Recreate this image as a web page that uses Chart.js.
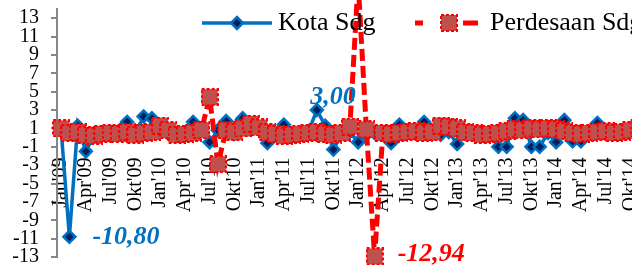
<!DOCTYPE html>
<html>
<head>
<meta charset="utf-8">
<script src="https://cdn.jsdelivr.net/npm/chart.js@4.4.0/dist/chart.umd.min.js"></script>
<style>
html, body { margin: 0; padding: 0; overflow: hidden; background: #fff; }
#wrap { width: 660px; height: 271px; }
</style>
</head>
<body>
<div id="wrap"><canvas id="line-chart"></canvas></div>
<script>
const months = [
  "Jan'09","Feb'09","Mar'09","Apr'09","Mei'09","Jun'09","Jul'09","Agu'09","Sep'09","Okt'09","Nov'09","Des'09",
  "Jan'10","Feb'10","Mar'10","Apr'10","Mei'10","Jun'10","Jul'10","Agu'10","Sep'10","Okt'10","Nov'10","Des'10",
  "Jan'11","Feb'11","Mar'11","Apr'11","Mei'11","Jun'11","Jul'11","Agu'11","Sep'11","Okt'11","Nov'11","Des'11",
  "Jan'12","Feb'12","Mar'12","Apr'12","Mei'12","Jun'12","Jul'12","Agu'12","Sep'12","Okt'12","Nov'12","Des'12",
  "Jan'13","Feb'13","Mar'13","Apr'13","Mei'13","Jun'13","Jul'13","Agu'13","Sep'13","Okt'13","Nov'13","Des'13",
  "Jan'14","Feb'14","Mar'14","Apr'14","Mei'14","Jun'14","Jul'14","Agu'14","Sep'14","Okt'14","Nov'14","Des'14"
]

const kota_sdg = [
  0.9, -10.80, 1.3, -1.5, 0.3, 0.5, 0.6, 0.7, 1.7, 0.5, 2.3, 2.1,
  0.8, 0.4, 0.3, 0.5, 1.7, 0.9, -0.5, 0.8, 1.8, 0.4, 2.1, 1.0,
  1.0, -0.6, 0.3, 1.4, 0.2, 0.5, 0.7, 3.00, 1.3, -1.3, 0.4, 0.6,
  -0.5, 0.3, 0.5, 0.4, -0.6, 1.4, 0.6, 0.7, 1.7, 0.4, 0.3, 0.6,
  -0.7, 0.5, 0.4, 0.3, 0.2, -1.0, -1.0, 2.1, 1.9, -1.0, -1.0, 0.5,
  -0.5, 1.9, -0.4, -0.4, 0.5, 1.6, 0.6, 0.5, 0.4, 0.6, 0.8, 1.0
]

const perdesaan_sdg = [
  1.0, 0.5, 0.6, 0.3, 0.2, 0.4, 0.5, 0.4, 0.6, 0.3, 0.5, 0.6,
  1.3, 0.8, 0.3, 0.4, 0.5, 0.8, 4.4, -2.9, 0.8, 0.6, 1.0, 1.5,
  1.1, 0.6, 0.4, 0.2, 0.3, 0.4, 0.5, 0.6, 0.4, 0.3, 0.5, 1.2,
  17.0, 0.9, -12.94, 0.5, 0.4, 0.5, 0.6, 0.7, 0.5, 0.6, 1.3, 1.2,
  1.0, 0.6, 0.5, 0.3, 0.4, 0.5, 0.7, 0.9, 0.8, 1.0, 0.9, 1.0,
  0.9, 0.7, 0.5, 0.4, 0.5, 0.6, 0.7, 0.5, 0.6, 0.8, 1.0, 1.2
]

const y_ticks = [-13, -11, -9, -7, -5, -3, -1, 1, 3, 5, 7, 9, 11, 13]

// [dataset, index] of the points that carry a value label
const labelled_points = [[0, 1], [0, 31], [1, 38]]

const serif = "'Liberation Serif', 'Times New Roman', serif"

// square marker with dashed red border
function makeSquare(size) {
  const c = document.createElement('canvas')
  c.width = size
  c.height = size
  const g = c.getContext('2d')
  g.fillStyle = '#C0504D'
  g.fillRect(1, 1, size - 2, size - 2)
  g.strokeStyle = '#FF0000'
  g.lineWidth = 2
  g.setLineDash([3, 2])
  g.strokeRect(1, 1, size - 2, size - 2)
  return c
}
const square = makeSquare(18)

function diamond(ctx, x, y, r) {
  ctx.beginPath()
  ctx.moveTo(x - r, y)
  ctx.lineTo(x, y - r)
  ctx.lineTo(x + r, y)
  ctx.lineTo(x, y + r)
  ctx.closePath()
  ctx.fillStyle = '#002060'
  ctx.fill()
  ctx.strokeStyle = '#0070C0'
  ctx.lineWidth = 2.5
  ctx.stroke()
}

const legendPlugin = {
  id: 'inlineLegend',
  afterDraw(chart) {
    const ctx = chart.ctx
    const ds = chart.data.datasets
    ctx.save()
    // Kota
    ctx.strokeStyle = '#0070C0'
    ctx.lineWidth = 3.5
    ctx.beginPath()
    ctx.moveTo(202, 23)
    ctx.lineTo(272, 23)
    ctx.stroke()
    diamond(ctx, 237, 23, 6)
    // Perdesaan
    ctx.strokeStyle = '#FF0000'
    ctx.lineWidth = 5
    ctx.setLineDash([8, 40, 15, 100])
    ctx.beginPath()
    ctx.moveTo(415, 23)
    ctx.lineTo(478, 23)
    ctx.stroke()
    ctx.setLineDash([])
    ctx.drawImage(square, 440, 14)
    ctx.fillStyle = '#000'
    ctx.font = '26px ' + serif
    ctx.textBaseline = 'middle'
    ctx.textAlign = 'left'
    ctx.fillText(ds[0].label, 278, 23)
    ctx.fillText(ds[1].label, 490, 23)
    ctx.restore()
  }
}

const label_styles = [
  { dx: 23, dy: 0, align: 'left', color: '#0070C0' },
  { dx: 16, dy: -13, align: 'center', color: '#0070C0' },
  { dx: 23, dy: -2, align: 'left', color: '#FF0000' }
]

const valueLabelPlugin = {
  id: 'valueLabels',
  afterDatasetsDraw(chart) {
    const ctx = chart.ctx
    ctx.save()
    ctx.font = 'italic bold 26px ' + serif
    ctx.textBaseline = 'middle'
    labelled_points.forEach(([d, i], k) => {
      const pt = chart.getDatasetMeta(d).data[i]
      const st = label_styles[k]
      const v = chart.data.datasets[d].data[i]
      ctx.fillStyle = st.color
      ctx.textAlign = st.align
      ctx.fillText(v.toFixed(2).replace('.', ','), pt.x + st.dx, pt.y + st.dy)
    })
    ctx.restore()
  }
}

new Chart(document.getElementById('line-chart'), {
  type: 'line',
  data: {
    labels: months,
    datasets: [
      {
        label: 'Kota Sdg',
        data: kota_sdg,
        borderColor: '#0070C0',
        borderWidth: 3.5,
        pointStyle: 'rectRot',
        pointRadius: 6,
        pointBackgroundColor: '#002060',
        pointBorderColor: '#0070C0',
        pointBorderWidth: 2.5,
        order: 2,
        clip: false
      },
      {
        label: 'Perdesaan Sdg',
        data: perdesaan_sdg,
        borderColor: '#FF0000',
        borderWidth: 5,
        borderDash: [12, 5],
        pointStyle: square,
        order: 1,
        clip: false
      }
    ]
  },
  options: {
    responsive: true,
    maintainAspectRatio: false,
    animation: false,
    layout: { padding: { top: 7, bottom: 14, right: 7, left: 0 } },
    plugins: {
      legend: { display: false },
      tooltip: { enabled: false }
    },
    scales: {
      x: {
        type: 'category',
        offset: true,
        position: { y: 0 },
        z: 1,
        grid: { display: false },
        border: { display: false },
        afterFit: s => {
          s.height = 0
          s.paddingLeft = 0
          s.paddingRight = 0
        },
        ticks: {
          autoSkip: false,
          minRotation: 90,
          maxRotation: 90,
          padding: 12,
          color: '#000',
          font: { family: serif, size: 20 },
          callback: function (v, i) { return i % 3 === 0 ? this.getLabelForValue(v) : '' }
        }
      },
      y: {
        min: -13,
        max: 14,
        afterFit: s => {
          s.width = 57
          s.paddingTop = 0
          s.paddingBottom = 0
        },
        afterBuildTicks: s => { s.ticks = y_ticks.map(v => ({ value: v })) },
        border: { color: '#868686', width: 2 },
        grid: { drawOnChartArea: false, drawTicks: true, tickLength: 6, color: '#868686', lineWidth: 2 },
        ticks: {
          autoSkip: false,
          padding: 12,
          color: '#000',
          font: { family: serif, size: 20 },
          callback: v => String(v)
        }
      }
    }
  },
  plugins: [legendPlugin, valueLabelPlugin]
});
</script>
</body>
</html>
